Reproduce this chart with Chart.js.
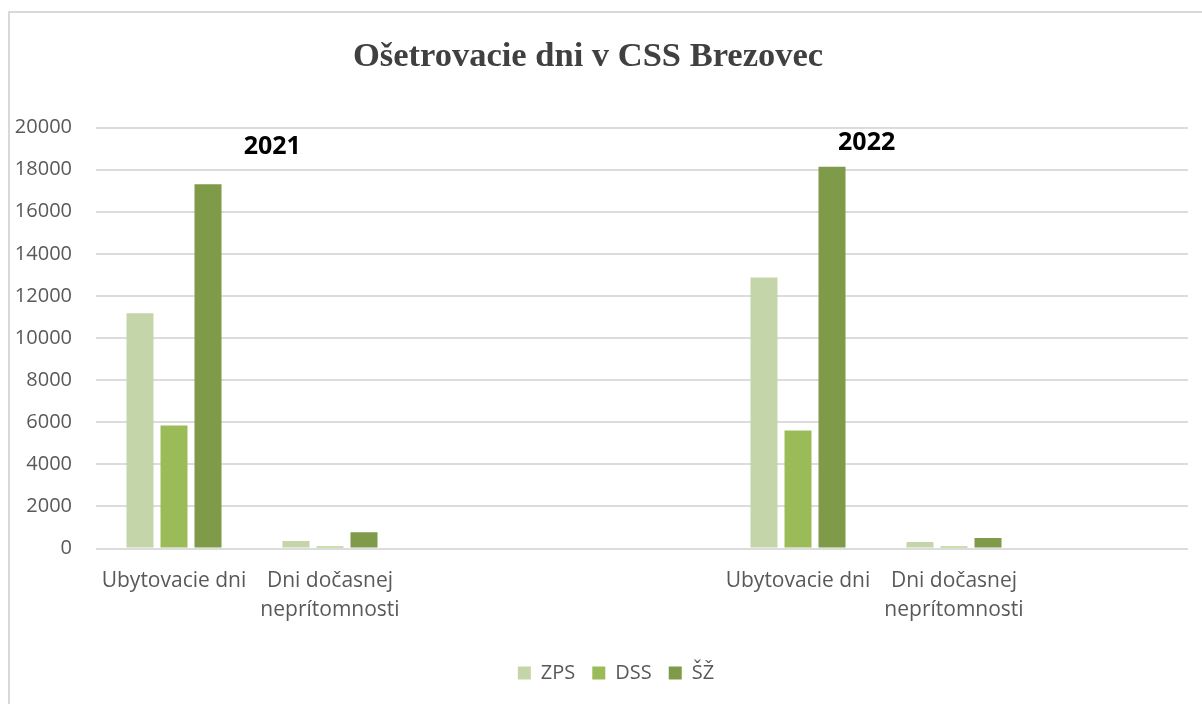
<!DOCTYPE html>
<html>
<head>
<meta charset="utf-8">
<script src="https://cdn.jsdelivr.net/npm/chart.js@4"></script>
<style>
  html, body { margin: 0; padding: 0; background: #ffffff; }
  #wrap { width: 1202px; height: 704px; position: relative; }
</style>
</head>
<body>
<div id="wrap"><canvas id="c" width="1202" height="704"></canvas></div>
<script>
const categories = ['Ubytovacie dni', ['Dni dočasnej', 'neprítomnosti'], '', '', 'Ubytovacie dni', ['Dni dočasnej', 'neprítomnosti'], ''];
const zpsValues = [11170, 360, null, null, 12870, 310, null];
const dssValues = [5840, 90, null, null, 5610, 90, null];
const szValues  = [17300, 770, null, null, 18130, 500, null];
const seriesNames = ['ZPS', 'DSS', 'ŠŽ'];
const yearLabels = ['2021', '2022'];
const yearPositions = [0.63, 4.44];
const yearLevels = [19100, 19250];
const yTickMin = 0, yTickMax = 20000, yTickStep = 2000;

const frame = {
  id: 'frame',
  afterLayout(chart) {
    if (chart.titleBlock) { chart.titleBlock.left -= 10; chart.titleBlock.right -= 10; }
    if (chart.legend) { chart.legend.left += 18; chart.legend.right += 18; }
  },
  beforeDraw(chart) {
    const ctx = chart.ctx;
    ctx.save();
    ctx.fillStyle = '#ffffff';
    ctx.fillRect(0, 0, chart.width, chart.height);
    ctx.strokeStyle = '#d9d9d9';
    ctx.lineWidth = 2;
    ctx.beginPath();
    ctx.moveTo(9, chart.height);
    ctx.lineTo(9, 12);
    ctx.lineTo(chart.width, 12);
    ctx.stroke();
    ctx.restore();
  }
};

const yearNotes = {
  id: 'yearNotes',
  afterDatasetsDraw(chart) {
    const ctx = chart.ctx, xs = chart.scales.x, ys = chart.scales.y;
    ctx.save();
    ctx.font = 'bold 25px "Open Sans"';
    ctx.fillStyle = '#000000';
    ctx.textAlign = 'center';
    ctx.textBaseline = 'middle';
    yearLabels.forEach((t, i) => {
      ctx.fillText(t, xs.getPixelForValue(yearPositions[i]), ys.getPixelForValue(yearLevels[i]));
    });
    ctx.restore();
  }
};

new Chart(document.getElementById('c'), {
  type: 'bar',
  data: {
    labels: categories,
    datasets: [
      { label: seriesNames[0], data: zpsValues, backgroundColor: '#c4d6a9' },
      { label: seriesNames[1], data: dssValues, backgroundColor: '#9bbb59' },
      { label: seriesNames[2], data: szValues, backgroundColor: '#7f9a48' }
    ]
  },
  options: {
    responsive: false,
    animation: false,
    categoryPercentage: 0.654,
    barPercentage: 0.794,
    layout: { padding: { left: 8, right: 14, top: 0, bottom: 11 } },
    plugins: {
      title: {
        display: true,
        text: 'Ošetrovacie dni v CSS Brezovec',
        color: '#404040',
        font: { family: '"Liberation Serif", "Times New Roman", serif', size: 34.5, weight: 'bold', lineHeight: 1.2 },
        padding: { top: 36.3, bottom: 49.8 }
      },
      legend: {
        position: 'bottom',
        labels: {
          color: '#595959',
          font: { family: '"Open Sans"', size: 20 },
          boxWidth: 13,
          boxHeight: 13,
          padding: 17
        }
      },
      tooltip: { enabled: false }
    },
    scales: {
      x: {
        grid: { display: false },
        border: { display: false },
        ticks: {
          color: '#595959',
          font: { family: '"Open Sans"', size: 21, lineHeight: 1.38 },
          padding: 10,
          maxRotation: 0,
          autoSkip: false
        },
        afterFit(scale) { scale.height = 97.5; }
      },
      y: {
        min: yTickMin,
        max: yTickMax,
        grid: { color: '#dcdcdc', lineWidth: 2, drawTicks: false },
        border: { display: false },
        ticks: {
          stepSize: yTickStep,
          color: '#595959',
          font: { family: '"Open Sans"', size: 20 },
          padding: 24,
          callback: (v) => String(v)
        },
        afterFit(scale) { scale.width = 88; }
      }
    }
  },
  plugins: [frame, yearNotes]
});
</script>
</body>
</html>
